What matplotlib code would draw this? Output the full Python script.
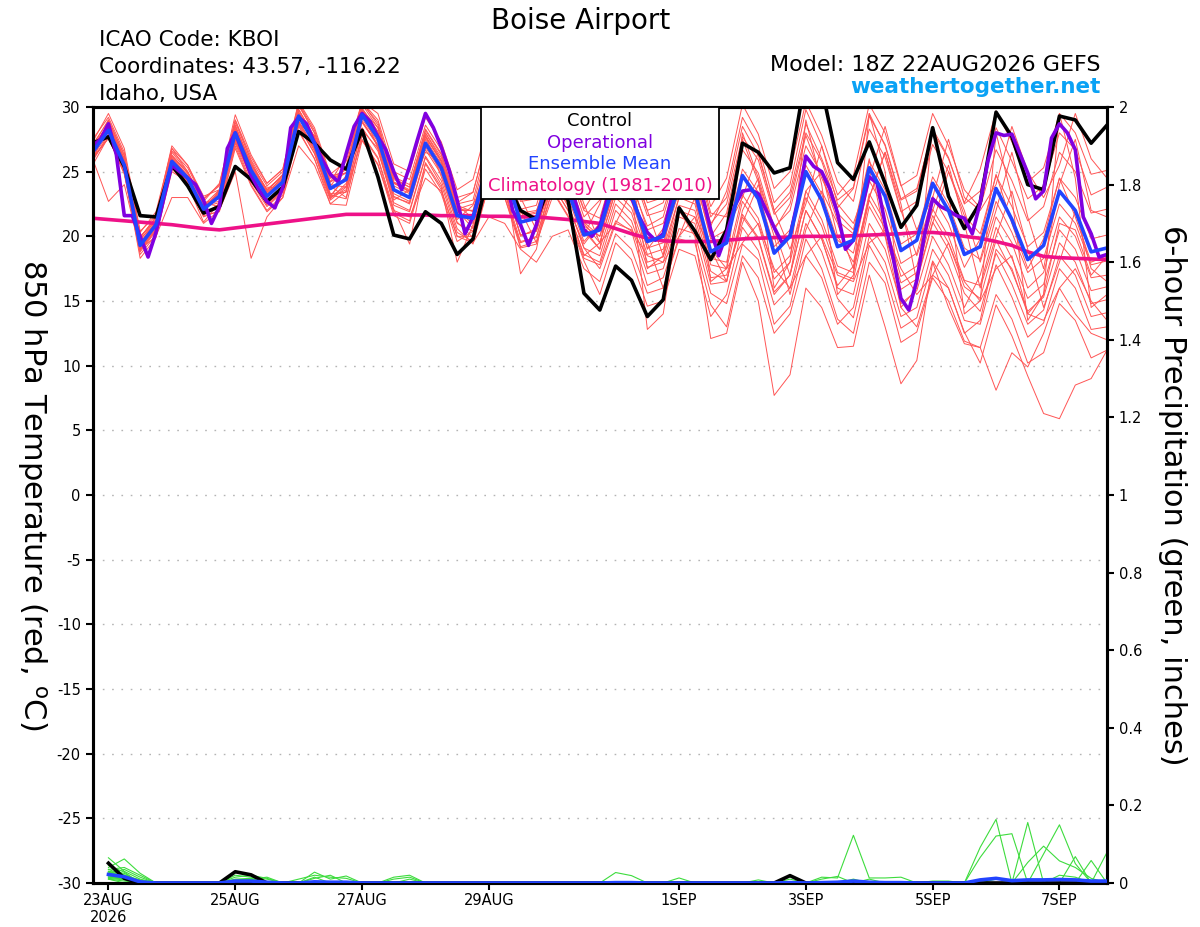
import matplotlib
matplotlib.use("Agg")
import matplotlib.pyplot as plt
from matplotlib.patches import Rectangle

plt.rcParams['font.family'] = ['DejaVu Sans']
plt.rcParams['axes.unicode_minus'] = False

# ---------------- time axes (hours since 18Z 22AUG2026) ----------------
hours6 = list(range(0, 385, 6))        # 65 six-hourly steps
hours3 = list(range(0, 385, 3))        # 129 three-hourly steps (operational)
precip_hours = list(range(6, 385, 6))  # 64 six-hour accumulation periods

tick_hours = [6, 54, 102, 150, 222, 270, 318, 366]
tick_labels = ['23AUG\n2026', '25AUG', '27AUG', '29AUG', '1SEP', '3SEP', '5SEP', '7SEP']
temp_ticks = [-30, -25, -20, -15, -10, -5, 0, 5, 10, 15, 20, 25, 30]
precip_ticks = [0, 0.2, 0.4, 0.6, 0.8, 1, 1.2, 1.4, 1.6, 1.8, 2]
precip_tick_labels = ['0', '0.2', '0.4', '0.6', '0.8', '1', '1.2', '1.4', '1.6', '1.8', '2']

# ---------------- 850 hPa temperature (deg C) ----------------
control = [27.2, 27.7, 25.4, 21.6, 21.5, 25.5, 23.9, 21.8,
           22.3, 25.4, 24.4, 22.7, 23.8, 28.1, 27.2, 25.9,
           25.2, 28.2, 24.6, 20.1, 19.8, 21.9, 21.0, 18.6,
           19.8, 25.0, 24.5, 22.0, 21.3, 24.5, 22.8, 15.6,
           14.3, 17.7, 16.6, 13.8, 15.1, 22.2, 20.4, 18.2,
           20.5, 27.2, 26.5, 24.9, 25.3, 32.5, 31.5, 25.7,
           24.4, 27.3, 24.1, 20.7, 22.4, 28.4, 23.1, 20.6,
           22.6, 29.6, 27.7, 24.0, 23.6, 29.3, 29.0, 27.2, 28.6]

ens_mean = [26.5, 28.2, 25.5, 19.3, 20.9, 25.8, 24.5, 22.1,
            23.1, 28.0, 25.1, 23.1, 24.2, 29.3, 27.2, 23.7,
            24.4, 29.4, 27.6, 23.6, 23.0, 27.2, 25.3, 21.6,
            21.4, 26.0, 25.0, 21.1, 21.4, 25.5, 23.5, 20.1,
            20.5, 24.5, 23.2, 19.6, 20.0, 24.0, 23.5, 18.8,
            19.5, 24.7, 22.9, 18.7, 20.0, 25.0, 22.8, 19.2,
            19.7, 25.3, 23.1, 18.9, 19.7, 24.1, 22.0, 18.6,
            19.2, 23.7, 21.3, 18.2, 19.3, 23.5, 22.0, 18.8, 19.1]

climatology = [21.4, 21.3, 21.2, 21.1, 21.0, 20.9, 20.75, 20.6,
               20.5, 20.65, 20.8, 20.95, 21.1, 21.25, 21.4, 21.55,
               21.7, 21.7, 21.7, 21.7, 21.65, 21.65, 21.6, 21.6,
               21.6, 21.55, 21.55, 21.5, 21.5, 21.4, 21.3, 21.15,
               21.0, 20.6, 20.2, 19.85, 19.65, 19.6, 19.6, 19.6,
               19.7, 19.8, 19.85, 19.9, 19.95, 20.0, 20.0, 20.0,
               20.05, 20.1, 20.15, 20.2, 20.3, 20.3, 20.2, 20.0,
               19.85, 19.6, 19.3, 18.8, 18.45, 18.35, 18.3, 18.25, 18.2]

operational = [27.0, 27.5, 28.7, 26.3, 21.6, 21.6, 20.0, 18.4,
               20.3, 23.0, 25.5, 25.0, 24.5, 24.0, 22.8, 21.0,
               22.3, 26.8, 28.0, 26.4, 24.7, 23.6, 22.7, 22.2,
               23.8, 28.4, 29.2, 28.7, 27.2, 25.9, 24.8, 24.2,
               26.4, 28.5, 29.5, 28.9, 27.7, 26.7, 25.0, 23.6,
               25.4, 27.5, 29.5, 28.4, 26.9, 25.1, 22.8, 20.2,
               21.5, 23.6, 25.5, 26.5, 25.0, 22.0, 20.9, 19.3,
               20.9, 23.5, 25.5, 26.0, 24.5, 22.5, 20.5, 20.0,
               20.8, 23.0, 25.0, 25.5, 23.0, 21.5, 20.3, 19.7,
               20.2, 22.8, 25.0, 26.0, 25.5, 23.0, 20.5, 18.5,
               20.2, 22.3, 23.5, 23.6, 23.3, 22.0, 20.7, 19.5,
               20.0, 22.8, 26.2, 25.4, 25.0, 23.7, 21.8, 19.0,
               19.7, 22.0, 24.6, 24.1, 21.0, 18.4, 15.2, 14.3,
               16.6, 20.2, 22.9, 22.3, 22.0, 21.6, 21.4, 20.2,
               22.6, 25.9, 28.0, 27.8, 27.9, 26.4, 24.9, 22.9,
               23.5, 27.6, 28.7, 28.0, 26.7, 21.5, 20.2, 18.4,
               18.6]

member_01 = [27.0, 29.0, 26.3, 20.0, 21.2, 26.5, 25.0, 22.4,
             23.6, 29.0, 25.8, 23.5, 24.8, 30.2, 28.0, 24.5,
             25.2, 30.3, 28.8, 24.5, 23.8, 28.3, 26.4, 22.5,
             22.8, 27.6, 26.4, 22.7, 22.9, 27.0, 25.2, 21.5,
             22.8, 27.2, 25.8, 22.0, 22.6, 26.5, 26.0, 21.5,
             23.0, 28.5, 26.3, 22.0, 23.4, 28.7, 26.0, 22.8,
             23.8, 29.5, 27.0, 22.8, 23.5, 28.3, 26.1, 22.5,
             23.5, 28.4, 25.8, 22.9, 23.9, 28.0, 26.7, 23.2, 23.8]
member_02 = [26.0, 27.6, 24.8, 18.6, 20.1, 25.0, 24.2, 21.7,
             22.5, 27.3, 24.6, 22.4, 23.5, 28.6, 26.4, 23.0,
             23.6, 28.2, 26.8, 22.4, 21.9, 26.1, 24.0, 20.3,
             19.6, 24.3, 23.4, 19.2, 19.6, 23.6, 21.6, 18.3,
             17.8, 21.2, 20.4, 16.2, 16.8, 20.6, 20.2, 15.6,
             14.8, 19.4, 18.2, 13.2, 14.6, 19.8, 17.5, 13.6,
             12.5, 18.0, 16.4, 11.8, 12.6, 16.8, 15.0, 11.9,
             11.4, 15.5, 13.6, 10.2, 11.0, 14.8, 13.5, 10.6, 11.2]
member_03 = [26.8, 28.7, 25.9, 19.8, 21.0, 26.2, 24.9, 22.6,
             22.9, 27.8, 24.8, 22.6, 23.8, 28.9, 26.8, 23.1,
             24.6, 29.8, 28.4, 24.2, 23.4, 28.0, 25.9, 22.0,
             20.6, 25.1, 24.3, 20.0, 20.6, 24.6, 22.3, 19.4,
             21.0, 26.0, 24.0, 20.8, 21.5, 25.8, 24.5, 20.0,
             21.8, 27.5, 24.2, 20.5, 22.5, 27.8, 24.5, 21.8,
             20.5, 26.0, 20.0, 14.5, 13.0, 17.0, 16.0, 12.5,
             13.5, 19.0, 17.5, 14.0, 15.5, 21.0, 20.5, 17.0, 18.5]
member_04 = [25.8, 27.9, 25.0, 19.0, 20.5, 25.2, 24.0, 21.5,
             22.0, 27.0, 24.0, 22.0, 23.2, 28.2, 26.0, 22.8,
             23.8, 28.9, 27.0, 23.0, 22.6, 27.8, 25.8, 22.0,
             22.0, 26.4, 25.3, 21.5, 21.8, 26.0, 23.8, 20.4,
             19.0, 23.0, 21.8, 18.0, 18.4, 22.4, 22.0, 17.3,
             16.5, 21.5, 19.8, 15.5, 17.0, 22.0, 19.8, 16.0,
             15.5, 21.0, 19.0, 14.8, 15.8, 20.0, 17.8, 14.5,
             17.0, 21.5, 19.5, 16.0, 17.2, 21.5, 20.0, 16.8, 17.0]
member_05 = [27.3, 29.5, 26.8, 20.4, 21.6, 27.0, 25.5, 22.9,
             24.0, 29.4, 26.3, 24.1, 25.2, 30.4, 28.4, 24.8,
             25.8, 30.4, 29.0, 25.0, 24.4, 28.6, 26.7, 23.0,
             23.4, 28.0, 26.8, 23.0, 23.4, 27.5, 25.4, 22.0,
             21.4, 25.6, 24.3, 20.5, 21.0, 25.0, 24.6, 19.8,
             20.5, 23.0, 26.5, 22.0, 19.0, 22.5, 27.0, 22.5,
             21.0, 24.5, 28.5, 24.0, 20.5, 23.0, 27.5, 23.0,
             22.0, 24.0, 28.5, 25.0, 23.0, 25.5, 29.5, 26.0, 24.5]
member_06 = [26.4, 28.5, 25.8, 19.4, 21.1, 26.0, 24.6, 22.3,
             23.4, 28.3, 25.5, 23.4, 24.5, 29.6, 27.4, 23.9,
             23.0, 27.8, 26.0, 21.8, 21.2, 25.6, 23.6, 20.0,
             19.5, 21.5, 21.0, 19.0, 18.0, 20.0, 20.5, 17.5,
             16.5, 20.2, 19.0, 15.6, 16.0, 19.8, 19.5, 14.7,
             13.0, 18.5, 16.8, 12.5, 14.0, 18.5, 16.8, 13.2,
             14.5, 20.0, 18.0, 13.8, 14.5, 19.0, 17.0, 13.5,
             13.2, 17.8, 15.3, 12.2, 13.3, 17.5, 16.0, 12.8, 13.0]
member_07 = [26.2, 27.9, 25.2, 19.0, 20.6, 25.5, 24.2, 21.8,
             23.6, 28.5, 25.6, 23.6, 24.7, 29.8, 27.7, 24.2,
             25.2, 30.2, 28.4, 24.4, 23.8, 28.0, 26.1, 22.4,
             21.4, 26.0, 25.0, 21.1, 21.4, 25.5, 23.5, 20.1,
             22.5, 26.5, 25.2, 21.6, 22.0, 26.0, 25.5, 20.8,
             23.5, 29.2, 27.0, 22.6, 24.0, 29.8, 27.0, 23.2,
             24.7, 30.2, 28.0, 23.9, 24.7, 29.5, 27.0, 23.6,
             22.2, 26.7, 24.3, 21.2, 22.3, 26.5, 25.0, 21.8, 22.1]
member_08 = [27.0, 28.6, 25.6, 19.9, 21.4, 26.3, 24.9, 22.6,
             22.3, 27.2, 24.2, 22.3, 23.4, 28.5, 26.4, 22.9,
             24.1, 29.1, 27.3, 23.3, 22.7, 26.9, 25.0, 21.3,
             22.4, 27.0, 26.0, 22.1, 22.4, 26.5, 24.5, 21.1,
             20.0, 23.8, 23.9, 19.0, 20.6, 24.6, 22.8, 18.3,
             18.0, 23.2, 21.4, 17.2, 18.5, 23.5, 21.3, 17.7,
             17.2, 22.8, 20.6, 16.4, 17.2, 21.6, 19.5, 16.1,
             15.2, 19.7, 17.3, 14.2, 15.3, 19.5, 18.0, 14.8, 15.1]
member_09 = [26.0, 22.7, 24.0, 19.0, 20.0, 23.0, 23.0, 21.0,
             22.0, 25.0, 18.3, 21.5, 23.0, 27.0, 25.5, 22.5,
             23.5, 27.5, 25.5, 22.0, 21.5, 24.5, 23.5, 20.0,
             20.0, 23.8, 23.0, 19.5, 20.0, 24.0, 22.0, 18.5,
             19.5, 21.0, 20.5, 18.5, 18.0, 20.0, 21.5, 19.0,
             17.5, 19.5, 21.0, 17.5, 16.0, 18.5, 20.0, 17.0,
             16.5, 19.5, 20.5, 17.5, 15.5, 17.0, 19.5, 16.5,
             15.0, 17.5, 18.5, 14.0, 13.5, 16.0, 17.5, 15.0, 13.5]
member_10 = [26.7, 28.7, 26.0, 19.5, 21.2, 26.1, 24.7, 22.2,
             23.5, 28.6, 25.6, 23.6, 24.6, 29.8, 27.6, 24.2,
             26.2, 30.4, 29.5, 25.6, 25.0, 29.2, 27.3, 23.6,
             24.4, 29.0, 28.0, 24.1, 24.4, 28.5, 26.5, 23.1,
             23.5, 27.5, 26.2, 22.6, 23.0, 27.0, 26.5, 21.8,
             21.5, 26.7, 24.9, 20.7, 22.0, 27.0, 24.8, 21.2,
             20.2, 25.8, 23.6, 19.4, 20.2, 24.6, 22.5, 19.1,
             18.2, 22.7, 20.3, 17.2, 18.3, 22.5, 21.0, 17.8, 18.1]
member_11 = [26.0, 27.6, 25.0, 18.8, 20.4, 25.3, 24.0, 21.6,
             21.9, 26.8, 23.9, 21.9, 23.0, 28.1, 26.0, 22.5,
             22.4, 27.4, 25.6, 21.6, 21.0, 25.2, 23.3, 19.6,
             20.4, 25.0, 24.0, 20.1, 20.4, 24.5, 22.5, 19.1,
             18.5, 22.5, 21.2, 17.6, 18.0, 22.0, 21.5, 16.8,
             17.0, 21.0, 24.0, 20.0, 15.5, 20.5, 23.5, 21.0,
             17.5, 23.0, 26.5, 22.5, 16.5, 21.0, 25.0, 22.0,
             18.0, 22.0, 26.5, 21.5, 17.5, 24.0, 27.5, 22.0, 21.5]
member_12 = [27.5, 29.2, 26.5, 20.3, 21.9, 26.8, 25.5, 23.1,
             23.6, 28.5, 25.6, 23.6, 24.7, 29.8, 27.7, 24.2,
             24.9, 29.9, 28.1, 24.1, 23.5, 27.7, 25.8, 22.1,
             22.5, 24.5, 26.0, 22.0, 19.5, 23.0, 24.0, 21.0,
             19.5, 23.5, 22.2, 18.6, 19.0, 23.0, 22.5, 17.8,
             17.5, 22.7, 20.9, 16.7, 18.0, 23.0, 20.8, 17.2,
             16.7, 22.3, 20.1, 15.9, 16.7, 21.1, 19.0, 15.6,
             14.2, 18.7, 16.3, 13.2, 14.3, 18.5, 17.0, 13.8, 14.1]
member_13 = [26.3, 28.4, 25.7, 19.1, 20.7, 26.0, 24.7, 22.3,
             23.3, 28.2, 25.3, 23.3, 24.4, 29.5, 27.4, 23.9,
             25.4, 30.4, 28.6, 24.6, 24.0, 28.2, 26.3, 22.6,
             23.4, 28.0, 27.0, 23.1, 23.4, 27.5, 25.5, 22.1,
             24.0, 28.0, 26.7, 23.1, 23.5, 27.5, 27.0, 22.3,
             24.5, 30.2, 27.9, 23.7, 25.0, 30.4, 27.8, 24.2,
             22.7, 28.3, 26.1, 21.9, 22.7, 27.1, 25.0, 21.6,
             20.2, 24.7, 22.3, 19.2, 20.3, 24.5, 23.0, 19.8, 20.1]
member_14 = [26.9, 28.6, 25.9, 19.7, 21.3, 26.2, 24.9, 22.5,
             22.7, 27.6, 24.7, 22.7, 23.8, 28.9, 26.8, 23.3,
             23.4, 28.4, 26.6, 22.6, 22.0, 26.2, 24.3, 20.6,
             19.4, 24.0, 23.0, 19.1, 19.4, 23.5, 21.5, 18.1,
             15.5, 19.5, 18.2, 14.6, 15.0, 19.0, 18.5, 13.8,
             15.5, 20.7, 18.9, 14.7, 16.0, 21.0, 18.8, 15.2,
             13.7, 19.3, 17.1, 12.9, 13.7, 18.1, 16.0, 12.6,
             10.2, 14.7, 12.3, 9.2, 6.3, 5.9, 8.5, 9.0, 11.2]
member_15 = [25.8, 29.0, 26.2, 19.9, 21.5, 26.6, 25.3, 22.9,
             23.9, 28.8, 25.9, 23.9, 25.0, 30.1, 28.0, 24.5,
             24.9, 28.8, 27.0, 24.2, 23.6, 26.5, 25.8, 22.4,
             21.9, 26.5, 25.5, 21.6, 21.9, 26.0, 24.0, 20.6,
             19.0, 27.0, 25.0, 17.5, 18.5, 27.0, 25.5, 16.5,
             17.5, 28.0, 24.5, 16.0, 18.0, 29.0, 24.0, 15.5,
             17.0, 29.5, 25.0, 14.5, 16.0, 28.5, 23.5, 14.0,
             15.0, 28.0, 23.0, 13.5, 15.5, 29.5, 24.5, 14.5, 15.5]
member_16 = [26.7, 28.2, 25.5, 19.5, 21.1, 25.8, 24.5, 22.3,
             22.6, 28.6, 24.4, 23.8, 23.7, 28.7, 27.8, 23.0,
             23.9, 28.9, 27.1, 23.1, 22.5, 26.7, 24.8, 21.1,
             19.9, 24.5, 23.5, 19.6, 19.9, 24.0, 22.0, 18.6,
             18.0, 22.0, 20.7, 17.1, 17.5, 21.5, 21.0, 16.3,
             16.5, 21.7, 19.9, 15.7, 17.0, 22.0, 19.8, 16.2,
             17.7, 23.3, 21.1, 16.9, 17.7, 22.1, 20.0, 16.6,
             16.2, 20.7, 18.3, 15.2, 16.3, 20.5, 19.0, 15.8, 16.1]
member_17 = [26.1, 27.6, 24.9, 18.9, 20.5, 25.4, 24.1, 21.7,
             22.5, 27.4, 24.5, 22.5, 23.6, 28.7, 26.6, 23.1,
             24.7, 29.7, 27.9, 23.9, 23.3, 27.5, 25.6, 21.9,
             21.0, 25.0, 27.5, 23.0, 20.5, 24.5, 26.0, 22.5,
             19.5, 23.5, 25.5, 22.0, 18.5, 23.0, 25.5, 21.0,
             22.5, 27.7, 25.9, 21.7, 23.0, 28.0, 25.8, 22.2,
             23.7, 29.3, 27.1, 22.9, 23.7, 28.1, 26.0, 22.6,
             25.2, 29.7, 27.3, 24.2, 25.3, 29.5, 28.0, 24.8, 25.1]
member_18 = [27.1, 28.9, 26.0, 19.9, 21.5, 26.8, 25.0, 22.7,
             24.1, 29.0, 26.1, 24.1, 25.2, 30.3, 28.2, 24.7,
             24.9, 29.9, 28.1, 24.1, 23.5, 27.7, 25.8, 22.1,
             22.0, 25.2, 24.2, 21.8, 22.0, 24.8, 24.0, 20.8,
             20.0, 24.0, 22.7, 19.1, 19.5, 23.5, 23.0, 18.3,
             20.0, 25.2, 23.4, 19.2, 20.5, 25.5, 23.3, 19.7,
             18.7, 24.3, 22.1, 17.9, 18.7, 23.1, 21.0, 17.6,
             19.8, 24.8, 21.0, 17.5, 19.8, 24.5, 21.5, 18.0, 18.5]
member_19 = [25.5, 27.7, 25.0, 18.3, 19.9, 25.3, 24.0, 21.1,
             22.6, 27.5, 24.6, 22.6, 23.7, 28.8, 26.7, 23.2,
             22.9, 27.9, 26.1, 22.1, 19.4, 25.7, 23.8, 18.0,
             20.9, 25.5, 24.5, 17.1, 19.0, 25.0, 23.0, 19.6,
             21.0, 25.0, 23.7, 12.8, 14.0, 22.0, 20.0, 12.1,
             12.5, 18.0, 15.0, 7.7, 9.3, 16.0, 14.5, 11.4,
             11.5, 17.0, 13.0, 8.6, 10.4, 18.0, 14.5, 11.7,
             11.4, 8.1, 11.0, 9.9, 12.5, 16.0, 14.0, 12.5, 12.0]
member_20 = [26.5, 28.5, 25.2, 19.1, 20.7, 25.6, 24.3, 21.9,
             23.4, 28.3, 25.4, 23.4, 24.5, 29.6, 27.5, 24.0,
             23.8, 29.8, 26.8, 22.8, 23.6, 27.8, 24.6, 21.0,
             20.4, 25.0, 24.0, 20.1, 20.4, 24.5, 22.5, 19.1,
             17.5, 21.0, 23.5, 19.5, 16.0, 20.0, 23.0, 19.0,
             16.5, 22.0, 24.5, 20.5, 17.0, 23.5, 25.0, 20.0,
             18.0, 23.0, 26.5, 22.0, 18.5, 22.0, 25.5, 21.0,
             16.0, 20.0, 23.5, 19.0, 14.5, 18.0, 22.0, 17.5, 16.5]

ens_members = [member_01, member_02, member_03, member_04, member_05,
               member_06, member_07, member_08, member_09, member_10,
               member_11, member_12, member_13, member_14, member_15,
               member_16, member_17, member_18, member_19, member_20]

# ---------------- 6-hour precipitation (inches), periods ending 06h..384h ----------------
control_precip = [0.051, 0.012, 0, 0, 0, 0, 0, 0,
                  0.029, 0.021, 0, 0, 0, 0, 0, 0,
                  0, 0, 0, 0, 0, 0, 0, 0,
                  0, 0, 0, 0, 0, 0, 0, 0,
                  0, 0, 0, 0, 0, 0, 0, 0,
                  0, 0, 0, 0.019, 0, 0, 0, 0,
                  0, 0, 0, 0, 0, 0, 0, 0,
                  0, 0, 0, 0, 0, 0, 0, 0]
mean_precip = [0.022, 0.016, 0.003, 0, 0, 0, 0, 0,
               0.005, 0.005, 0.002, 0, 0, 0.003, 0.002, 0.002,
               0, 0, 0, 0, 0, 0, 0, 0,
               0, 0, 0, 0, 0, 0, 0, 0,
               0.001, 0.001, 0, 0, 0, 0, 0, 0,
               0, 0, 0, 0.001, 0, 0.001, 0.002, 0.005,
               0.002, 0.001, 0.001, 0, 0, 0, 0, 0.008,
               0.012, 0.006, 0.008, 0.008, 0.009, 0.008, 0.005, 0.005]

precip_01 = [0.065, 0.03, 0.01, 0, 0, 0, 0, 0,
             0, 0, 0, 0, 0, 0.028, 0.01, 0.018,
             0, 0, 0, 0, 0, 0, 0, 0,
             0, 0, 0, 0, 0, 0, 0, 0,
             0, 0, 0, 0, 0, 0, 0, 0,
             0, 0, 0, 0, 0, 0, 0, 0,
             0, 0, 0, 0, 0, 0, 0, 0.092,
             0.164, 0, 0, 0, 0, 0, 0, 0]
precip_02 = [0.04, 0.062, 0.025, 0, 0, 0, 0, 0,
             0.02, 0.015, 0.01, 0, 0, 0, 0, 0,
             0, 0, 0, 0, 0, 0, 0, 0,
             0, 0, 0, 0, 0, 0, 0, 0,
             0, 0, 0, 0, 0, 0, 0, 0,
             0, 0, 0, 0, 0, 0, 0, 0,
             0, 0, 0, 0, 0, 0, 0, 0.066,
             0.121, 0.127, 0, 0, 0, 0, 0, 0]
precip_03 = [0.035, 0.04, 0.02, 0, 0, 0, 0, 0,
             0.015, 0.02, 0.012, 0, 0, 0, 0, 0,
             0, 0, 0.015, 0.02, 0, 0, 0, 0,
             0, 0, 0, 0, 0, 0, 0, 0,
             0, 0, 0, 0, 0, 0, 0, 0,
             0, 0, 0, 0, 0, 0, 0, 0,
             0, 0, 0, 0, 0, 0, 0, 0,
             0, 0, 0.156, 0, 0, 0, 0, 0]
precip_04 = [0.03, 0.025, 0, 0, 0, 0, 0, 0,
             0, 0, 0, 0, 0.01, 0.02, 0.015, 0.012,
             0, 0, 0, 0, 0, 0, 0, 0,
             0, 0, 0, 0, 0, 0, 0, 0,
             0.027, 0.019, 0, 0, 0, 0, 0, 0,
             0, 0, 0, 0, 0, 0, 0, 0,
             0, 0, 0, 0, 0, 0, 0, 0,
             0, 0, 0.053, 0.095, 0.057, 0.04, 0.012, 0]
precip_05 = [0.025, 0.035, 0.015, 0, 0, 0, 0, 0,
             0.01, 0.012, 0, 0, 0, 0, 0, 0,
             0, 0, 0, 0, 0, 0, 0, 0,
             0, 0, 0, 0, 0, 0, 0, 0,
             0, 0, 0, 0, 0, 0, 0, 0,
             0, 0, 0, 0, 0, 0.015, 0.013, 0.123,
             0.013, 0.013, 0.015, 0, 0, 0, 0, 0,
             0, 0, 0, 0.075, 0.15, 0.05, 0, 0]
precip_06 = [0.02, 0.02, 0, 0, 0, 0, 0, 0,
             0, 0, 0, 0, 0, 0.015, 0, 0,
             0, 0, 0.01, 0.015, 0, 0, 0, 0,
             0, 0, 0, 0, 0, 0, 0, 0,
             0, 0, 0, 0, 0.013, 0, 0, 0,
             0, 0, 0, 0, 0, 0, 0, 0,
             0, 0, 0, 0, 0, 0, 0, 0,
             0, 0, 0, 0, 0, 0.068, 0, 0]
precip_07 = [0.045, 0.028, 0, 0, 0, 0, 0, 0,
             0, 0.01, 0.015, 0, 0, 0, 0, 0,
             0, 0, 0, 0, 0, 0, 0, 0,
             0, 0, 0, 0, 0, 0, 0, 0,
             0, 0, 0, 0, 0, 0, 0, 0,
             0, 0, 0, 0, 0, 0.01, 0.017, 0,
             0.01, 0, 0, 0, 0, 0, 0, 0,
             0, 0, 0, 0, 0, 0, 0.058, 0]
precip_08 = [0.015, 0.01, 0, 0, 0, 0, 0, 0,
             0, 0, 0, 0, 0, 0, 0, 0,
             0, 0, 0, 0, 0, 0, 0, 0,
             0, 0, 0, 0, 0, 0, 0, 0,
             0, 0, 0, 0, 0, 0, 0, 0,
             0, 0.008, 0, 0.01, 0, 0, 0, 0,
             0, 0, 0, 0, 0, 0, 0, 0,
             0, 0, 0, 0, 0, 0, 0, 0.079]
precip_09 = [0.05, 0.02, 0.008, 0, 0, 0, 0, 0,
             0, 0, 0, 0, 0, 0.012, 0.02, 0,
             0, 0, 0, 0, 0, 0, 0, 0,
             0, 0, 0, 0, 0, 0, 0, 0,
             0, 0, 0, 0, 0, 0, 0, 0,
             0, 0, 0, 0, 0, 0, 0, 0,
             0, 0, 0, 0, 0.005, 0.005, 0, 0,
             0.01, 0.008, 0, 0, 0, 0, 0, 0]
precip_10 = [0.01, 0, 0, 0, 0, 0, 0, 0,
             0.008, 0.01, 0, 0, 0, 0, 0, 0,
             0, 0, 0, 0.01, 0, 0, 0, 0,
             0, 0, 0, 0, 0, 0, 0, 0,
             0, 0, 0, 0, 0, 0, 0, 0,
             0, 0, 0, 0, 0, 0, 0, 0.01,
             0, 0, 0, 0, 0, 0, 0, 0,
             0, 0, 0, 0, 0.02, 0.015, 0, 0]
precip_11 = [0.03, 0.015, 0, 0, 0, 0, 0, 0,
             0, 0, 0, 0, 0, 0, 0, 0,
             0, 0, 0, 0, 0, 0, 0, 0,
             0, 0, 0, 0, 0, 0, 0, 0,
             0, 0, 0, 0, 0, 0, 0, 0,
             0, 0, 0, 0, 0, 0, 0, 0,
             0, 0, 0, 0, 0, 0, 0, 0,
             0, 0, 0, 0, 0, 0, 0, 0]
precip_12 = [0.02, 0.012, 0, 0, 0, 0, 0, 0,
             0, 0, 0, 0, 0, 0, 0, 0,
             0, 0, 0, 0, 0, 0, 0, 0,
             0, 0, 0, 0, 0, 0, 0, 0,
             0, 0, 0, 0, 0, 0, 0, 0,
             0, 0, 0, 0, 0, 0, 0, 0,
             0, 0, 0, 0, 0, 0, 0, 0,
             0, 0, 0, 0, 0, 0, 0, 0]
precip_13 = [0.025, 0.02, 0, 0, 0, 0, 0, 0,
             0, 0, 0, 0, 0, 0, 0, 0,
             0, 0, 0, 0, 0, 0, 0, 0,
             0, 0, 0, 0, 0, 0, 0, 0,
             0, 0, 0, 0, 0, 0, 0, 0,
             0, 0, 0, 0, 0, 0, 0, 0,
             0, 0, 0, 0, 0, 0, 0, 0,
             0, 0, 0, 0, 0, 0, 0, 0]
precip_14 = [0.012, 0.008, 0, 0, 0, 0, 0, 0,
             0, 0, 0, 0, 0, 0, 0, 0,
             0, 0, 0, 0, 0, 0, 0, 0,
             0, 0, 0, 0, 0, 0, 0, 0,
             0, 0, 0, 0, 0, 0, 0, 0,
             0, 0, 0, 0, 0, 0, 0, 0,
             0, 0, 0, 0, 0, 0, 0, 0,
             0, 0, 0, 0, 0, 0, 0, 0]
precip_15 = [0.018, 0.01, 0, 0, 0, 0, 0, 0,
             0, 0, 0, 0, 0, 0, 0, 0,
             0, 0, 0, 0, 0, 0, 0, 0,
             0, 0, 0, 0, 0, 0, 0, 0,
             0, 0, 0, 0, 0, 0, 0, 0,
             0, 0, 0, 0, 0, 0, 0, 0,
             0, 0, 0, 0, 0, 0, 0, 0,
             0, 0, 0, 0, 0, 0, 0, 0]
precip_16 = [0.028, 0.018, 0, 0, 0, 0, 0, 0,
             0, 0, 0, 0, 0, 0, 0, 0,
             0, 0, 0, 0, 0, 0, 0, 0,
             0, 0, 0, 0, 0, 0, 0, 0,
             0, 0, 0, 0, 0, 0, 0, 0,
             0, 0, 0, 0, 0, 0, 0, 0,
             0, 0, 0, 0, 0, 0, 0, 0,
             0, 0, 0, 0, 0, 0, 0, 0]
precip_17 = [0.022, 0.014, 0, 0, 0, 0, 0, 0,
             0, 0, 0, 0, 0, 0, 0, 0,
             0, 0, 0, 0, 0, 0, 0, 0,
             0, 0, 0, 0, 0, 0, 0, 0,
             0, 0, 0, 0, 0, 0, 0, 0,
             0, 0, 0, 0, 0, 0, 0, 0,
             0, 0, 0, 0, 0, 0, 0, 0,
             0, 0, 0, 0, 0, 0, 0, 0]
precip_18 = [0.015, 0.01, 0, 0, 0, 0, 0, 0,
             0, 0, 0, 0, 0, 0, 0, 0,
             0, 0, 0, 0, 0, 0, 0, 0,
             0, 0, 0, 0, 0, 0, 0, 0,
             0, 0, 0, 0, 0, 0, 0, 0,
             0, 0, 0, 0, 0, 0, 0, 0,
             0, 0, 0, 0, 0, 0, 0, 0,
             0, 0, 0, 0, 0, 0, 0, 0]
precip_19 = [0.035, 0.02, 0, 0, 0, 0, 0, 0,
             0, 0, 0, 0, 0, 0, 0, 0,
             0, 0, 0, 0, 0, 0, 0, 0,
             0, 0, 0, 0, 0, 0, 0, 0,
             0, 0, 0, 0, 0, 0, 0, 0,
             0, 0, 0, 0, 0, 0, 0, 0,
             0, 0, 0, 0, 0, 0, 0, 0,
             0, 0, 0, 0, 0, 0, 0, 0]
precip_20 = [0.01, 0.005, 0, 0, 0, 0, 0, 0,
             0, 0, 0, 0, 0, 0, 0, 0,
             0, 0, 0, 0, 0, 0, 0, 0,
             0, 0, 0, 0, 0, 0, 0, 0,
             0, 0, 0, 0, 0, 0, 0, 0,
             0, 0, 0, 0, 0, 0, 0, 0,
             0, 0, 0, 0, 0, 0, 0, 0,
             0, 0, 0, 0, 0, 0, 0, 0]

precip_members = [precip_01, precip_02, precip_03, precip_04, precip_05,
                  precip_06, precip_07, precip_08, precip_09, precip_10,
                  precip_11, precip_12, precip_13, precip_14, precip_15,
                  precip_16, precip_17, precip_18, precip_19, precip_20]

legend_entries = ['Control', 'Operational', 'Ensemble Mean', 'Climatology (1981-2010)']

# ---------------- styles ----------------
RED = '#ff5555'
GREEN = '#3ddc3d'
PURPLE = '#8000e0'
BLUE = '#2244ff'
PINK = '#ee1188'
legend_colors = ['black', PURPLE, BLUE, PINK]

W, H = 1200, 927
fig = plt.figure(figsize=(W / 100, H / 100), dpi=100)
ax = fig.add_axes([92.6 / W, (H - 883) / H, (1107 - 92.6) / W, 776 / H])

for v in temp_ticks[1:-1]:
    ax.axhline(v, color='#b4b4b4', lw=1.0, ls=(0, (1.2, 5.5)), zorder=1)

for m in ens_members:
    ax.plot(hours6, m, color=RED, lw=0.7, zorder=2)
ax.plot(hours6, climatology, color=PINK, lw=2.6, zorder=3, solid_joinstyle='round')
ax.plot(hours6, control, color='black', lw=2.6, zorder=4, solid_joinstyle='round')
ax.plot(hours3, operational, color=PURPLE, lw=2.6, zorder=5, solid_joinstyle='round')
ax.plot(hours6, ens_mean, color=BLUE, lw=2.6, zorder=6, solid_joinstyle='round')

ax.set_xlim(0, 384)
ax.set_ylim(-30, 30)
ax.set_yticks(temp_ticks)
ax.set_yticklabels([str(t) for t in temp_ticks])
ax.set_xticks(tick_hours)
ax.set_xticklabels(tick_labels)
ax.tick_params(axis='both', direction='out', length=5, width=1.5, labelsize=10.5, colors='black')
ax.tick_params(axis='x', pad=2)
for s in ax.spines.values():
    s.set_linewidth(2.2)

ax2 = ax.twinx()
for p in precip_members:
    ax2.plot(precip_hours, p, color=GREEN, lw=0.8, zorder=2)
ax2.plot(precip_hours, control_precip, color='black', lw=2.6, zorder=3)
ax2.plot(precip_hours, mean_precip, color=BLUE, lw=2.6, zorder=4)
ax2.set_ylim(0, 2)
ax2.set_xlim(0, 384)
ax2.set_yticks(precip_ticks)
ax2.set_yticklabels(precip_tick_labels)
ax2.tick_params(axis='y', direction='out', length=5, width=1.5, labelsize=10.5)
for s in ax2.spines.values():
    s.set_linewidth(2.2)

# legend box (drawn over the lines)
x0 = (481 - 92.6) / (1107 - 92.6)
x1 = (719 - 92.6) / (1107 - 92.6)
y0 = (883 - 199) / 776
ax2.add_patch(Rectangle((x0, y0), x1 - x0, 1 - y0, transform=ax2.transAxes,
                        facecolor='white', edgecolor='black', lw=1.3, zorder=20))
xc = (600 - 92.6) / (1107 - 92.6)
for k, (lab, col) in enumerate(zip(legend_entries, legend_colors)):
    ypix = 121 + 21.6 * k
    ax2.text(xc, (883 - ypix) / 776, lab, transform=ax2.transAxes, ha='center', va='center',
             fontsize=13, color=col, zorder=21)

# titles and annotations
fig.text(580.7 / W, 1 - 29 / H, 'Boise Airport', ha='center', va='baseline', fontsize=20)
fig.text(98.8 / W, 1 - 46 / H, 'ICAO Code: KBOI', ha='left', va='baseline', fontsize=15.5)
fig.text(98.8 / W, 1 - 73 / H, 'Coordinates: 43.57, -116.22', ha='left', va='baseline', fontsize=15.5)
fig.text(98.8 / W, 1 - 100 / H, 'Idaho, USA', ha='left', va='baseline', fontsize=15.5)
fig.text(1101 / W, 1 - 71 / H, 'Model: 18Z 22AUG2026 GEFS', ha='right', va='baseline', fontsize=16)
fig.text(1101 / W, 1 - 93 / H, 'weathertogether.net', ha='right', va='baseline', fontsize=15.5,
         fontweight='bold', color='#0aa2f5')

fig.text(32 / W, 1 - 495 / H, '850 hPa Temperature (red, $^{\\mathrm{o}}$C)', rotation=-90,
         ha='center', va='center', fontsize=22)
fig.text(1172 / W, 1 - 495 / H, '6-hour Precipitation (green, inches)', rotation=-90,
         ha='center', va='center', fontsize=22)

fig.savefig('out.png', dpi=100)
